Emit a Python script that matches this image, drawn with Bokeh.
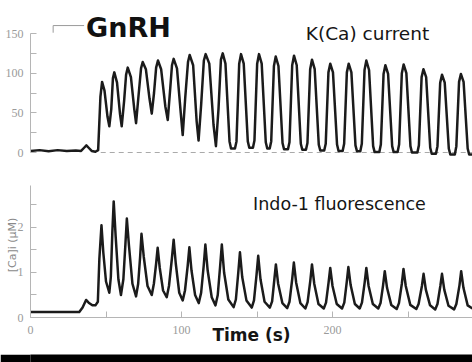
from bokeh.plotting import figure
from bokeh.models import Range1d, FixedTicker, Label
from bokeh.layouts import column
from bokeh.embed import file_html
from bokeh.resources import INLINE

# ---------------- data ----------------
# K(Ca) current trace (time s, current)
kca_t = [0, 6, 12, 18, 24, 30, 33.5, 35.5, 37, 38.5, 40.5, 43, 44.8,
         46.3, 47.4, 49, 51, 52.2, 53.5, 54.6, 55.5, 57.3, 59.3, 60.4, 62, 63.3, 64.4,
         66.5, 68.7, 69.9, 71.7, 73.2, 74.3, 76.4, 78.8, 80.3, 81.8, 83.2, 84.4,
         86.5, 89.3, 90.9, 92.5, 93.7, 94.8, 97, 99.5, 100.8, 102.5, 104.3, 105.4,
         107.7, 110, 111.3, 113, 114.8, 116, 118.4, 121.2, 122.8, 124.5, 126.1, 127.3,
         129.1, 131.8, 132.8, 135.4, 136.4, 138.2, 139.4,
         141.2, 143.9, 144.9, 147.3, 148.3, 150.1, 151.3,
         153.1, 155.8, 156.8, 158.4, 159.4, 161.2, 162.4,
         164.2, 166.9, 167.9, 170.5, 171.5, 173.3, 174.5,
         176.3, 179, 180, 182.4, 183.4, 185.2, 186.4,
         188.2, 190.9, 191.9, 194.5, 195.5, 197.3, 198.5,
         200.3, 203, 204, 206.7, 207.7, 209.5, 210.7,
         212.5, 215.2, 216.2, 218.4, 219.4, 221.2, 222.4,
         224.2, 226.9, 227.9, 231, 232, 233.8, 235,
         236.8, 239.5, 240.5, 243.1, 244.1, 245.9, 247.1,
         248.9, 251.6, 252.6, 256.2, 257.2, 259, 260.2,
         262, 264.7, 265.7, 268.5, 269.5, 271.3, 272.5,
         274.3, 277, 278, 281, 282, 283.8, 285,
         286.8, 289.5, 290.5, 292.7]
kca_v = [2, 3, 1.5, 3, 2, 2.5, 2, 6, 9, 6, 2, 1, 3,
         70, 89, 78, 45, 33, 55, 94, 101, 88, 48, 33, 65, 98, 107,
         95, 55, 37, 75, 106, 114, 105, 68, 49, 75, 107, 116,
         105, 58, 41, 80, 110, 118, 106, 50, 22, 70, 114, 123,
         110, 40, 15, 60, 116, 124, 112, 35, 8, 55, 117, 125,
         112, 14, 5, 5, 14, 112, 124,
         112, 14, 6, 6, 15, 112, 124,
         112, 13, 5, 5, 14, 109, 121,
         109, 12, 4, 4, 13, 110, 122,
         110, 11, 3.5, 3.5, 12, 105, 117,
         105, 10, 2.5, 2.5, 11, 101, 112,
         101, 10, 2, 2, 11, 101, 112,
         101, 9, 1.5, 1.5, 11, 104, 116,
         104, 8, 0.5, 0.5, 10, 99, 110,
         99, 8, 0.5, 0.5, 10, 100, 111,
         100, 8, 0, 0, 9, 95, 105,
         95, 6, -1.5, -1.5, 8, 88, 98,
         88, 5, -2.5, -2.5, 8, 89, 99,
         89, 5, -2.5, -2.5]

# Indo-1 fluorescence trace ([Ca]i, uM)
ca_t = [0, 32.3, 34.5, 36.8, 38.5, 41, 43, 44.6, 45.6, 47,
        48.2, 50, 52.2, 53.2, 54.2, 55.1,
        56.4, 58.2, 59.9, 61.5, 62.8, 63.8,
        65.2, 67.5, 69.9, 71.3, 72.6, 73.5,
        75, 77.5, 80.3, 81.7, 83.2, 84.2,
        85.6, 87.8, 90.2, 91.7, 93.6, 94.8,
        96.2, 98.5, 100.8, 102.3, 104.1, 105.2,
        106.6, 109, 111.4, 113, 114.7, 115.8,
        117.3, 120, 122.5, 124, 125.6, 126.7,
        128.2, 131, 134.5, 136, 137.6, 138.7,
        140.2, 143, 146.5, 148, 149.7, 150.8,
        152.3, 155, 158.5, 160, 161.5, 162.5,
        164, 166.8, 170, 171.5, 173.3, 174.4,
        175.9, 178.7, 182, 183.5, 185.3, 186.4,
        187.9, 190.7, 194.2, 195.7, 197.4, 198.5,
        200, 202.8, 206.3, 207.8, 209.4, 210.5,
        212, 214.8, 218, 219.5, 221.3, 222.4,
        223.9, 226.7, 230.3, 231.8, 233.5, 234.6,
        236.1, 238.9, 242.5, 244, 245.9, 247,
        248.5, 251.5, 255.5, 257, 259.2, 260.3,
        261.8, 264.6, 268, 269.5, 271.4, 272.5,
        274, 276.8, 280.5, 282, 284.1, 285.2,
        286.7, 289.5, 292.7]
ca_v = [0.12, 0.12, 0.22, 0.39, 0.33, 0.27, 0.27, 0.35, 1.3, 2.05,
        1.45, 0.8, 0.55, 0.9, 1.9, 2.58,
        1.8, 0.85, 0.5, 0.85, 1.6, 2.2,
        1.6, 0.75, 0.47, 0.75, 1.35, 1.86,
        1.35, 0.7, 0.5, 0.75, 1.2, 1.55,
        1.1, 0.6, 0.45, 0.7, 1.3, 1.73,
        1.2, 0.55, 0.38, 0.6, 1.15, 1.56,
        1.05, 0.5, 0.32, 0.55, 1.15, 1.62,
        1.05, 0.45, 0.27, 0.5, 1.15, 1.62,
        1.0, 0.4, 0.23, 0.4, 1.0, 1.45,
        0.9, 0.38, 0.22, 0.38, 0.95, 1.37,
        0.85, 0.35, 0.22, 0.36, 0.85, 1.18,
        0.75, 0.32, 0.21, 0.35, 0.85, 1.22,
        0.78, 0.32, 0.2, 0.34, 0.82, 1.18,
        0.75, 0.3, 0.2, 0.33, 0.78, 1.1,
        0.7, 0.3, 0.2, 0.33, 0.78, 1.12,
        0.72, 0.3, 0.2, 0.33, 0.78, 1.1,
        0.7, 0.3, 0.2, 0.32, 0.72, 1.03,
        0.66, 0.28, 0.19, 0.32, 0.75, 1.08,
        0.7, 0.28, 0.19, 0.3, 0.7, 0.97,
        0.62, 0.27, 0.18, 0.3, 0.7, 0.97,
        0.62, 0.26, 0.18, 0.3, 0.72, 1.03,
        0.66, 0.27, 0.2]

# GnRH application marker and zero reference line
stim_t = [15, 15, 35.5]
stim_v = [151, 160, 160]
zero_t = [46.5, 292.7]
zero_v = [0, 0]

kca_ticks = [0, 50, 100, 150]
kca_minor = [25, 75, 125]
ca_ticks = [0, 1, 2]
ca_minor = [0.5, 1.5, 2.5]
time_ticks = [0, 100, 200]
time_minor = [50, 150, 250]

# ---------------- styling ----------------
W = 472
X_END = 292.7
TRACE = "#1b1b1b"
AXIS = "#b5b5b5"
TICKLBL = "#9a9a9a"
LW = 2.5


def style_axis(ax):
    ax.axis_line_color = AXIS
    ax.major_tick_line_color = AXIS
    ax.minor_tick_line_color = AXIS
    ax.major_tick_in = 6
    ax.major_tick_out = 0
    ax.minor_tick_in = 6
    ax.minor_tick_out = 0
    ax.major_label_text_font = "Liberation Serif"
    ax.major_label_text_font_size = "12px"
    ax.major_label_text_color = TICKLBL


# ---------------- top panel: K(Ca) current ----------------
top = figure(width=W, height=172, x_range=Range1d(0, X_END), y_range=Range1d(-25.2, 191.6),
             output_backend="svg", toolbar_location=None, x_axis_location=None,
             min_border_left=30, min_border_right=0, min_border_top=0, min_border_bottom=0,
             outline_line_color=None, background_fill_color="white", border_fill_color="white")
top.grid.visible = False
top.yaxis.ticker = FixedTicker(ticks=kca_ticks, minor_ticks=kca_minor)
top.yaxis.bounds = (0, 150)
style_axis(top.yaxis[0])
top.yaxis.major_label_standoff = 7

top.line(zero_t, zero_v, line_color="#aaaaaa", line_width=1.2, line_dash="5 4")
top.line(stim_t, stim_v, line_color="#9a9a9a", line_width=1)
top.line(kca_t, kca_v, line_color=TRACE, line_width=LW, line_join="round")

top.add_layout(Label(x=36.8, y=158, text="GnRH", text_font="DejaVu Sans", text_font_style="bold",
                     text_font_size="27px", text_color="#111111", text_baseline="alphabetic"))
top.add_layout(Label(x=182.3, y=149.6, text="K(Ca) current", text_font="DejaVu Sans",
                     text_font_size="18.5px", text_color="#151515", text_baseline="alphabetic"))

# ---------------- bottom panel: Indo-1 fluorescence ----------------
bot = figure(width=W, height=180, x_range=Range1d(0, X_END), y_range=Range1d(0, 3.222),
             output_backend="svg", toolbar_location=None,
             min_border_left=30, min_border_right=0, min_border_top=0, min_border_bottom=35,
             outline_line_color=None, background_fill_color="white", border_fill_color="white")
bot.grid.visible = False
bot.yaxis.ticker = FixedTicker(ticks=ca_ticks, minor_ticks=ca_minor)
bot.yaxis.bounds = (0, 2.93)
style_axis(bot.yaxis[0])
bot.yaxis.major_label_standoff = 7
bot.yaxis.axis_label = "[Ca]i (µM)"
bot.yaxis.axis_label_text_font = "DejaVu Sans"
bot.yaxis.axis_label_text_font_size = "11px"
bot.yaxis.axis_label_text_font_style = "normal"
bot.yaxis.axis_label_text_color = "#8a8a8a"
bot.yaxis.axis_label_standoff = -4
bot.xaxis.ticker = FixedTicker(ticks=time_ticks, minor_ticks=time_minor)
style_axis(bot.xaxis[0])
bot.xaxis.major_label_standoff = 8
bot.xaxis.axis_label = "Time (s)"
bot.xaxis.axis_label_text_font = "DejaVu Sans"
bot.xaxis.axis_label_text_font_style = "bold"
bot.xaxis.axis_label_text_font_size = "17px"
bot.xaxis.axis_label_text_color = "#151515"
bot.xaxis.axis_label_standoff = -12

bot.line(ca_t, ca_v, line_color=TRACE, line_width=LW, line_join="round")

bot.add_layout(Label(x=147.4, y=2.527, text="Indo-1 fluorescence", text_font="DejaVu Sans",
                     text_font_size="17.5px", text_color="#151515", text_baseline="alphabetic"))

# ---------------- bottom black strip ----------------
bar = figure(width=W, height=10, output_backend="svg", toolbar_location=None,
             x_axis_location=None, y_axis_location=None,
             min_border_left=0, min_border_right=0, min_border_top=0, min_border_bottom=0,
             outline_line_color=None, background_fill_color="black", border_fill_color="black")
bar.grid.visible = False

p = column(top, bot, bar, spacing=0)
open("out.html", "w").write(file_html(p, INLINE))
